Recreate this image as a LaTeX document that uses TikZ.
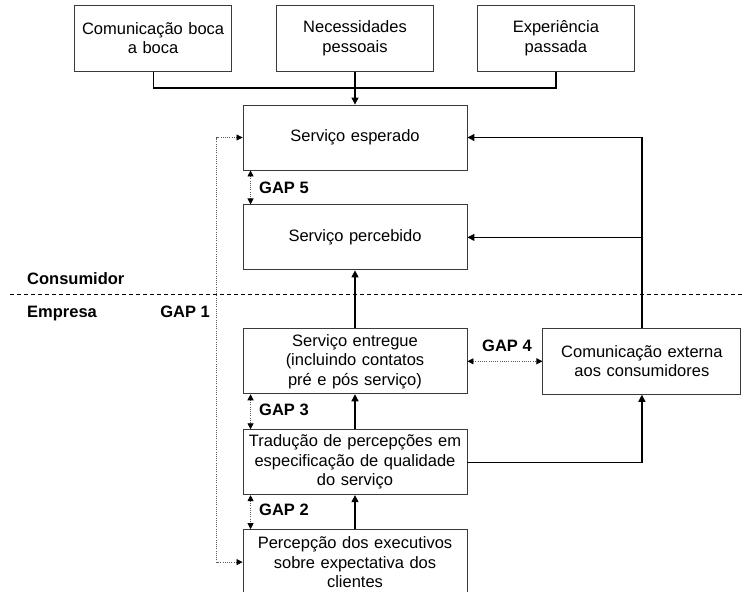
\documentclass[tikz,border=0pt]{standalone}
\usepackage{fontspec}
\setmainfont{Liberation Sans}
\usetikzlibrary{positioning, arrows.meta, calc}
\definecolor{boxline}{HTML}{3A3A3A}
\definecolor{dotgray}{HTML}{5A5A5A}

\begin{document}
\begin{tikzpicture}[
    x=1pt, y=1pt,
    node distance=34pt and 44pt,
    box/.style={rectangle, draw=boxline, line width=0.9pt, fill=white,
                minimum width=224pt, minimum height=65pt, text width=214pt,
                align=center, inner sep=0pt,
                font=\fontsize{16.5}{19.5}\selectfont},
    topbox/.style={box, minimum width=157pt, text width=150pt, minimum height=66pt},
    extbox/.style={box, minimum width=198pt, text width=190pt, minimum height=66pt},
    arrow/.style={-{Triangle[length=7pt, width=7pt]}, line width=1.2pt},
    plain/.style={line width=1.2pt},
    gaparrow/.style={{Triangle[length=6pt, width=6pt, color=black]}-{Triangle[length=6pt, width=6pt, color=black]},
                     dash pattern=on 1pt off 1.2pt, line width=0.8pt, draw=dotgray},
    divider/.style={dash pattern=on 4pt off 3pt, line width=0.8pt},
    lbl/.style={font=\fontsize{16.5}{19.5}\selectfont\bfseries, inner sep=0pt}
  ]
    \useasboundingbox (0,0) rectangle (745,-592);

    \node[box] (esperado) at (355,-137.5) {Serviço esperado};
    \node[box, below=of esperado] (percebido) {Serviço percebido};
    \node[box, below=58pt of percebido] (entregue)
          {Serviço entregue\\(incluindo contatos\\pré e pós serviço)};
    \node[box, below=35pt of entregue] (traducao)
          {Tradução de percepções em\\especificação de qualidade\\do serviço};
    \node[box, below=of traducao] (percepcao)
          {Percepção dos executivos\\sobre expectativa dos\\clientes};

    \node[topbox, above=33pt of esperado] (necess) {Necessidades\\pessoais};
    \node[topbox, left=of necess] (boca) {Comunicação boca\\a boca};
    \node[topbox, right=43pt of necess] (exper) {Experiência\\passada};

    \node[extbox, right=75pt of entregue] (comext) {Comunicação externa\\aos consumidores};

    \node[lbl, anchor=base west] (consum) at (27,-284.5) {Consumidor};
    \node[lbl, anchor=base west] (empresa) at (27,-317.5) {Empresa};
    \node[lbl, anchor=base east] (gap1) at (210,-317.5) {GAP 1};
    \node[lbl, anchor=base west] (gap5) at (259,-193) {GAP 5};
    \node[lbl, anchor=base west] (gap3) at (259,-415.5) {GAP 3};
    \node[lbl, anchor=base west] (gap2) at (259,-515) {GAP 2};
    \node[lbl, anchor=base] (gap4) at (507,-351) {GAP 4};

    % consumidor / empresa
    \coordinate (divl) at (10,-294);
    \coordinate (divr) at (745,-294);
    \draw[divider] (divl) -- (divr);

    \coordinate (merge) at (355,-88);
    \draw[plain] (boca.south) |- (merge) -| (exper.south);
    \draw[arrow] (necess.south) -- (esperado.north);

    \draw[arrow] (entregue) -- (percebido);
    \draw[arrow] (traducao) -- (entregue);
    \draw[arrow] (percepcao) -- (traducao);
    \draw[arrow] (traducao.east) -| (comext.south);
    \draw[arrow] (comext.north) |- (esperado.east);
    \draw[arrow] (comext.north |- percebido.east) -- (percebido.east);

    % gaps
    \draw[gaparrow] ([xshift=8pt]esperado.south west) -- ([xshift=8pt]percebido.north west);
    \draw[gaparrow] ([xshift=8pt]entregue.south west) -- ([xshift=8pt]traducao.north west);
    \draw[gaparrow] ([xshift=8pt]traducao.south west) -- ([xshift=8pt]percepcao.north west);
    \draw[gaparrow] (entregue.east) -- (entregue.east -| comext.west);
    \draw[gaparrow] (percepcao.west) -- ++(-26,0) |- (esperado.west);
  \end{tikzpicture}
\end{document}
